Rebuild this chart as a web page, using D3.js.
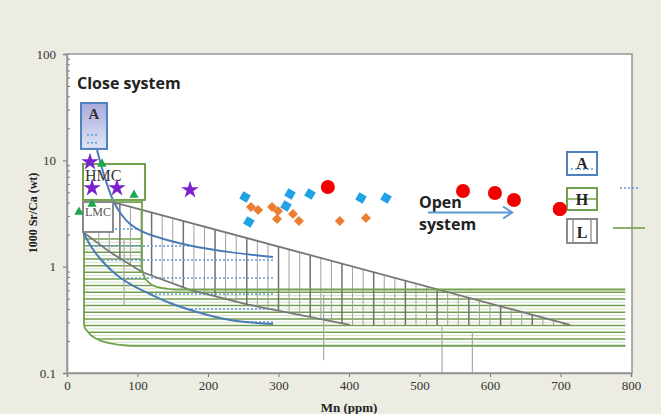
<!DOCTYPE html>
<html><head><meta charset="utf-8">
<script src="https://cdn.jsdelivr.net/npm/d3@7"></script>
<style>body{margin:0;background:#edece3;}svg{display:block;}</style>
</head><body>
<svg id="c" width="661" height="414"></svg>
<script>
// ---- data ----
const xTicks = [0,100,200,300,400,500,600,700,800];
const yTicks = [0.1,1,10,100];
const yTickLabels = ["0.1","1","10","100"];
const stars = [[32.6,9.64],[35.5,5.49],[70.9,5.49],[174.5,5.26]];
const triangles = [[49.6,9.24],[95,4.72],[35.5,3.88],[17,3.27]];
const blueDiamonds = [[252.5,4.52],[258,2.63],[310.6,3.72],[316.3,4.82],[344.7,4.82],[417,4.42],[452.5,4.42]];
const orangeDiamonds = [[261,3.64],[271,3.41],[290.8,3.64],[299.3,3.34],[297.9,2.81],[320.6,3.13],[329,2.69],[387,2.69],[424,2.87]];
const redCircles = [[370,5.61],[561.7,5.15],[607,4.93],[634,4.24],[699,3.49]];
// field boundaries (Mn, Sr/Ca)
const boxA = [19.9,56.7,12.8,34.6];
const boxHMC = [22.7,110.6,4.24,9.24];
const boxLMC = [22.7,65.2,2.12,4.05];
const blueUpper = [[42.6,12.5],[52.5,7.28],[65.2,4.24],[76.6,3.13],[89.4,2.52],[107.8,2.12],[141.8,1.78],[184.4,1.53],[231.2,1.37],[292.2,1.23]];
const blueLower = [[22.7,2.12],[35.5,1.50],[51.1,1.106],[72.3,0.817],[92.2,0.672],[117.7,0.553],[146.1,0.455],[184.4,0.375],[231.2,0.315],[292.2,0.289]];
const blueDotted = [2.26,1.565,1.156,0.782,0.553,0.400,0.302];
const grayUpper = [[65.2,4.05],[713.5,0.283]];
const grayLower = [[22.7,2.12],[61,1.37],[106.4,0.891],[174.5,0.604],[259.6,0.436],[401.4,0.283]];
const greenRightBend = [[106.4,0.972],[108,0.86],[110.6,0.782],[115,0.72],[120.6,0.672],[127,0.645],[134.8,0.63],[143,0.618],[153.2,0.61]];
const greenBottomBend = [[24.1,0.283],[25.5,0.262],[29.8,0.243],[34,0.226],[39.7,0.213],[48,0.2],[58.2,0.192],[72,0.185],[89.4,0.18]];
const greenTopY = 1.94, greenEndX = 792, greenLeftX = 24.1, greenColX = 106.4, greenColTop = 4.05, greenHMCBottom = 4.24;
const extraLines = [[81,1.78,0.436],[364,0.543,0.132],[532,0.271,0.1],[575,0.243,0.1]];

// ---- scales ----
const svg = d3.select("#c");
const x = d3.scaleLinear().domain([0,800]).range([67,631]);
const y = d3.scaleLog().domain([0.1,100]).range([373,54]);
const serif = "'Liberation Serif','Times New Roman',serif";
const GREEN = "#72a04e", DOT = "#5b9bd5", BLUE = "#4a7bb7";

const lin = d3.line().x(d=>x(d[0])).y(d=>y(d[1]));
const cur = d3.line().x(d=>x(d[0])).y(d=>y(d[1])).curve(d3.curveCatmullRom.alpha(0.5));

svg.append("rect").attr("width",661).attr("height",414).attr("fill","#edece3");
svg.append("rect").attr("x",67).attr("y",54).attr("width",565).attr("height",319).attr("fill","#fff");

const defs = svg.append("defs");
const grad = defs.append("linearGradient").attr("id","gA").attr("x1",0).attr("y1",0).attr("x2",0).attr("y2",1);
grad.append("stop").attr("offset","0%").attr("stop-color","#a9aadc");
grad.append("stop").attr("offset","100%").attr("stop-color","#dfe7f6");

const greenPoly = [[greenLeftX,greenTopY],[greenColX,greenTopY],...greenRightBend,[greenEndX,greenRightBend[greenRightBend.length-1][1]],
  [greenEndX,greenBottomBend[greenBottomBend.length-1][1]],...greenBottomBend.slice().reverse()];
defs.append("clipPath").attr("id","clipG").append("path").attr("d", lin(greenPoly)+"Z");
defs.append("clipPath").attr("id","clipGr").append("path")
  .attr("d", lin([[22.7,4.05],...grayUpper,[401.4,0.283],...grayLower.slice().reverse()])+"Z");
const blueOutline = [[22.7,12.5],...blueUpper,...blueLower.slice().reverse()];
defs.append("clipPath").attr("id","clipB").append("path").attr("d", lin(blueOutline)+"Z");

// green horizontal hatching
const gH = svg.append("g").attr("clip-path","url(#clipG)");
for (let py = 239, k = 0; py <= 347; py += 3.33, k++) {
  const v = y.invert(py);
  gH.append("line").attr("x1",x(0)).attr("x2",x(800)).attr("y1",y(v)).attr("y2",y(v))
    .attr("stroke", k%2===0 ? GREEN : "#d2e2c4").attr("stroke-width", k%2===0 ? 1.5 : 1);
}
// gray vertical hatching
const gV = svg.append("g").attr("clip-path","url(#clipGr)");
for (let m = 45, k = 0; m <= 716; m += 15, k++) {
  gV.append("line").attr("x1",x(m)).attr("x2",x(m)).attr("y1",y(100)).attr("y2",y(0.1))
    .attr("stroke", k%3===2 ? "#707070" : "#a0a0a0").attr("stroke-width", k%3===2 ? 1.5 : 1);
}
// blue dotted hatching
const gB = svg.append("g").attr("clip-path","url(#clipB)");
blueDotted.forEach(v=>{
  gB.append("line").attr("x1",x(0)).attr("x2",x(292.2)).attr("y1",y(v)).attr("y2",y(v))
    .attr("stroke",DOT).attr("stroke-width",1.6).attr("stroke-dasharray","2,2");
});
// extra thin gray lines
extraLines.forEach(d=>{
  svg.append("line").attr("x1",x(d[0])).attr("x2",x(d[0])).attr("y1",y(d[1])).attr("y2",y(d[2]))
    .attr("stroke","#a8a8a8").attr("stroke-width",1.2);
});
// gray outlines
svg.append("path").attr("d",lin(grayUpper)).attr("fill","none").attr("stroke","#777").attr("stroke-width",1.8);
svg.append("path").attr("d",lin(grayLower)).attr("fill","none").attr("stroke","#777").attr("stroke-width",1.8);
// green outlines
const gl = [[greenLeftX,greenColTop],...greenBottomBend,[greenEndX,greenBottomBend[greenBottomBend.length-1][1]]];
const gr = [[greenColX,greenHMCBottom],...greenRightBend,[greenEndX,greenRightBend[greenRightBend.length-1][1]]];
[gl, gr].forEach(p=>svg.append("path").attr("d",lin(p)).attr("fill","none").attr("stroke",GREEN).attr("stroke-width",1.8));
svg.append("path").attr("d",lin([[greenLeftX,greenColTop],[greenColX,greenColTop]])).attr("fill","none").attr("stroke",GREEN).attr("stroke-width",1.8);
// blue curves
[blueUpper, blueLower].forEach(p=>svg.append("path").attr("d",cur(p)).attr("fill","none").attr("stroke",BLUE).attr("stroke-width",2));

// boxes
function box(b, fill, stroke){
  return svg.append("rect").attr("x",x(b[0])).attr("y",y(b[3])).attr("width",x(b[1])-x(b[0])).attr("height",y(b[2])-y(b[3]))
    .attr("fill",fill).attr("stroke",stroke).attr("stroke-width",2);
}
box(boxHMC,"none",GREEN);
box(boxLMC,"#fff","#8a8a8a");
box(boxA,"url(#gA)","#4f81bd");
[17.3,14.6].forEach(v=>svg.append("line").attr("x1",x(28.4)).attr("x2",x(44)).attr("y1",y(v)).attr("y2",y(v))
  .attr("stroke",DOT).attr("stroke-width",1.5).attr("stroke-dasharray","2,2"));
svg.append("text").attr("x",(x(boxA[0])+x(boxA[1]))/2).attr("y",119).attr("text-anchor","middle")
  .attr("font-family",serif).attr("font-weight","bold").attr("font-size",15).attr("fill","#333").text("A");
svg.append("text").attr("x",85).attr("y",181).attr("font-family",serif).attr("font-size",16).attr("fill","#333").text("HMC");
svg.append("text").attr("x",85).attr("y",216).attr("font-family",serif).attr("font-size",12).attr("fill","#555").text("LMC");

// annotations
svg.append("text").attr("x",77).attr("y",89).attr("font-family","'Open Sans',sans-serif").attr("font-weight","bold")
  .attr("font-size",16).attr("fill","#222").text("Close system");
svg.append("text").attr("x",419).attr("y",208).attr("font-family","'Open Sans',sans-serif").attr("font-weight","bold")
  .attr("font-size",16).attr("fill","#222").text("Open");
svg.append("text").attr("x",419).attr("y",230).attr("font-family","'Open Sans',sans-serif").attr("font-weight","bold")
  .attr("font-size",16).attr("fill","#222").text("system");
const ay = y(3.23);
svg.append("line").attr("x1",x(512)).attr("x2",x(630)).attr("y1",ay).attr("y2",ay).attr("stroke",DOT).attr("stroke-width",2);
svg.append("path").attr("d",`M${x(630)-8},${ay-6}L${x(630)+1},${ay}L${x(630)-8},${ay+6}`).attr("fill","none").attr("stroke",DOT).attr("stroke-width",2);

// axes
const ax = svg.append("g").attr("transform","translate(0,373)")
  .call(d3.axisBottom(x).tickValues(xTicks).tickSize(4).tickPadding(4).tickFormat(d3.format("d")));
const ayx = svg.append("g").attr("transform","translate(67,0)")
  .call(d3.axisLeft(y).tickValues(yTicks).tickSize(4).tickPadding(7).tickFormat((d,i)=>yTickLabels[i]));
const minors = [];
[0.1,1,10].forEach(b=>{for(let k=2;k<=9;k++) minors.push(b*k);});
svg.append("g").attr("transform","translate(67,0)").call(d3.axisRight(y).tickValues(minors).tickSize(3).tickFormat(""))
  .call(g=>g.select(".domain").remove());
[ax,ayx].forEach(g=>{
  g.selectAll("text").attr("font-family",serif).attr("font-size",13).attr("fill","#333");
  g.select(".domain").attr("stroke","#888").attr("stroke-width",1.5);
});
svg.selectAll(".tick line").attr("stroke","#777");
svg.append("rect").attr("x",67).attr("y",54).attr("width",565).attr("height",319)
  .attr("fill","none").attr("stroke","#999").attr("stroke-width",1.6);

svg.append("text").attr("transform","translate(37,213) rotate(-90)").attr("text-anchor","middle")
  .attr("font-family",serif).attr("font-weight","bold").attr("font-size",12).attr("fill","#222").text("1000 Sr/Ca (wt)");
svg.append("text").attr("x",349).attr("y",412).attr("text-anchor","middle")
  .attr("font-family",serif).attr("font-weight","bold").attr("font-size",13).attr("fill","#222").text("Mn (ppm)");

// points
const sym = (arr, type, size, color, rot) => svg.append("g").selectAll("path").data(arr).join("path")
  .attr("d", d3.symbol().type(type).size(size))
  .attr("transform", d=>`translate(${x(d[0])},${y(d[1])}) rotate(${rot||0})`).attr("fill",color);
sym(stars, d3.symbolStar, 95, "#7a22cc");
sym(triangles, d3.symbolTriangle, 38, "#1ca84e");
sym(blueDiamonds, d3.symbolSquare, 72, "#22a2e6", 30);
sym(orangeDiamonds, d3.symbolSquare, 50, "#ed7d31", 45);
svg.append("g").selectAll("circle").data(redCircles).join("circle")
  .attr("cx",d=>x(d[0])).attr("cy",d=>y(d[1])).attr("r",7).attr("fill","#f00000");

// legend
const lg = svg.append("g");
lg.append("rect").attr("x",567).attr("y",152).attr("width",30).attr("height",23).attr("fill","#fff").attr("stroke","#4f81bd").attr("stroke-width",2);
lg.append("text").attr("x",582).attr("y",169).attr("text-anchor","middle").attr("font-family",serif).attr("font-weight","bold").attr("font-size",16).attr("fill","#222").text("A");
lg.append("line").attr("x1",571).attr("x2",593).attr("y1",169).attr("y2",169).attr("stroke",DOT).attr("stroke-width",1.3).attr("stroke-dasharray","2,2");
lg.append("line").attr("x1",620).attr("x2",640).attr("y1",188).attr("y2",188).attr("stroke",DOT).attr("stroke-width",1.5).attr("stroke-dasharray","2,2");
lg.append("rect").attr("x",567).attr("y",188).attr("width",30).attr("height",22).attr("fill","#fff").attr("stroke",GREEN).attr("stroke-width",2);
lg.append("line").attr("x1",568).attr("x2",596).attr("y1",199).attr("y2",199).attr("stroke",GREEN).attr("stroke-width",1.5);
lg.append("text").attr("x",582).attr("y",205).attr("text-anchor","middle").attr("font-family",serif).attr("font-weight","bold").attr("font-size",16).attr("fill","#222").text("H");
lg.append("rect").attr("x",567).attr("y",219).attr("width",30).attr("height",24).attr("fill","#fff").attr("stroke","#8a8a8a").attr("stroke-width",2);
[573,591].forEach(v=>lg.append("line").attr("x1",v).attr("x2",v).attr("y1",220).attr("y2",242).attr("stroke","#8a8a8a").attr("stroke-width",1.3));
lg.append("text").attr("x",582).attr("y",238).attr("text-anchor","middle").attr("font-family",serif).attr("font-weight","bold").attr("font-size",16).attr("fill","#222").text("L");
lg.append("line").attr("x1",613).attr("x2",645).attr("y1",228).attr("y2",228).attr("stroke",GREEN).attr("stroke-width",1.6);
svg.append("circle").attr("cx",x(redCircles[4][0])).attr("cy",y(redCircles[4][1])).attr("r",7).attr("fill","#f00000");
</script>
</body></html>
